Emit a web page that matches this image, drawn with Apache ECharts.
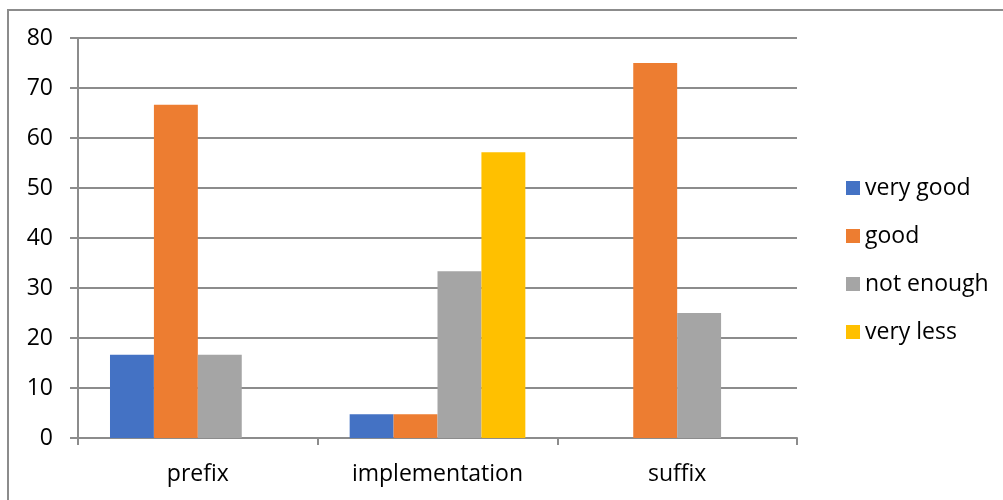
<!DOCTYPE html>
<html>
<head>
<meta charset="utf-8">
<script src="https://cdn.jsdelivr.net/npm/echarts@6/dist/echarts.min.js"></script>
<style>
  html, body { margin: 0; padding: 0; background: #fff; }
  #chart { width: 1003px; height: 500px; }
</style>
</head>
<body>
<div id="chart"></div>
<script>
// Survey answers per topic, in percent
const categories = ['prefix', 'implementation', 'suffix'];
const seriesNames = ['very good', 'good', 'not enough', 'very less'];
const veryGood  = [16.67, 4.76, 0];
const good      = [66.67, 4.76, 75];
const notEnough = [16.67, 33.33, 25];
const veryLess  = [0, 57.14, 0];
const yTicks = [0, 10, 20, 30, 40, 50, 60, 70, 80];

const colors = ['#4472C4', '#ED7D31', '#A5A5A5', '#FFC000'];
const values = [veryGood, good, notEnough, veryLess];
const font = '"Open Sans", sans-serif';
const fontSize = 23;
const lineColor = '#8c8c8c';

const chart = echarts.init(document.getElementById('chart'), null, { renderer: 'canvas' });
chart.setOption({
  animation: false,
  color: colors,
  grid: { left: 78, right: 206, top: 38, bottom: 62, containLabel: false },
  graphic: [{
    type: 'rect',
    shape: { x: 8, y: 10, width: 1010, height: 510 },
    style: { fill: 'none', stroke: lineColor, lineWidth: 2 },
    silent: true
  }],
  legend: {
    orient: 'vertical',
    left: 841,
    top: 171,
    itemWidth: 14,
    itemHeight: 14,
    itemGap: 24,
    icon: 'rect',
    textStyle: { fontFamily: font, fontSize: fontSize, lineHeight: 24, color: '#000' },
    data: seriesNames
  },
  xAxis: {
    type: 'category',
    data: categories,
    boundaryGap: true,
    axisLine: { show: true, lineStyle: { color: lineColor, width: 2 } },
    axisTick: { show: true, length: 7, lineStyle: { color: lineColor, width: 2 } },
    axisLabel: { fontFamily: font, fontSize: fontSize, color: '#000', margin: 25 }
  },
  yAxis: {
    type: 'value',
    min: yTicks[0],
    max: yTicks[yTicks.length - 1],
    interval: yTicks[1] - yTicks[0],
    axisLine: { show: true, lineStyle: { color: lineColor, width: 2 } },
    axisTick: { show: true, length: 8, lineStyle: { color: lineColor, width: 2 } },
    splitLine: { show: true, lineStyle: { color: lineColor, width: 2 } },
    axisLabel: { fontFamily: font, fontSize: fontSize, color: '#000', margin: 25 }
  },
  series: seriesNames.map((name, i) => ({
    name,
    type: 'bar',
    data: values[i],
    barGap: '0%',
    barCategoryGap: '26.7%',
    itemStyle: { color: colors[i] }
  }))
});
</script>
</body>
</html>
